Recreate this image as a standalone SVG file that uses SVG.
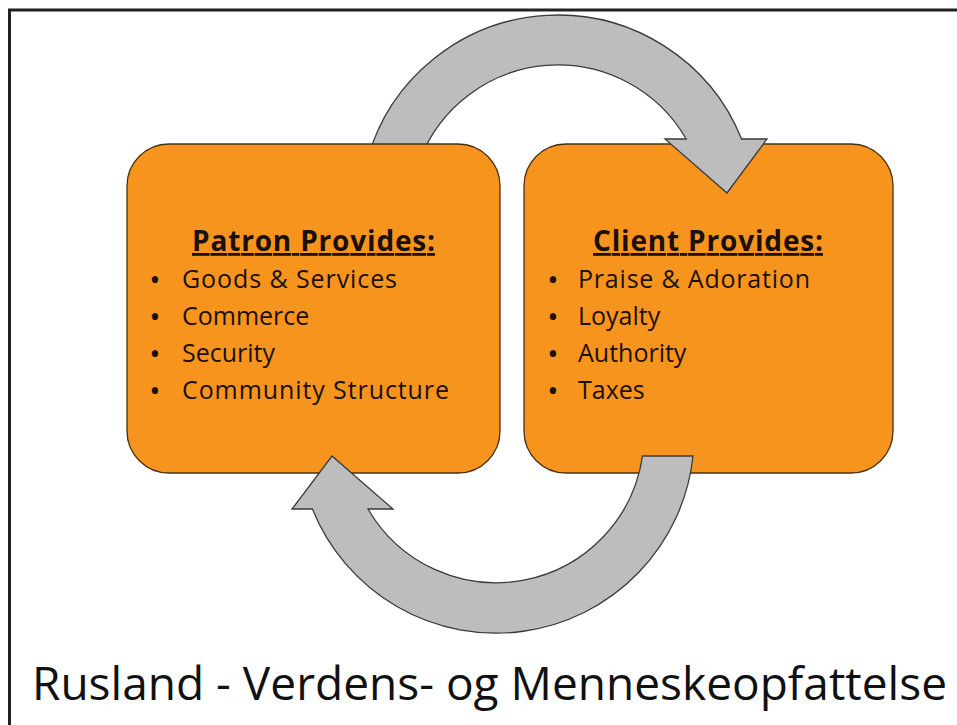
<svg xmlns="http://www.w3.org/2000/svg" width="957" height="725" viewBox="0 0 957 725">
<style>
.box{fill:#f7941d;stroke:#4a3010;stroke-width:1.3}
.arr{fill:#bdbdbd;stroke:#3a3a3a;stroke-width:1.3;stroke-linejoin:miter}
.head{font-family:"Open Sans","Liberation Sans",sans-serif;font-weight:bold;font-size:28px;fill:#1a1008;text-decoration:underline;text-anchor:middle}
.item{font-family:"Open Sans","Liberation Sans",sans-serif;font-size:25px;fill:#1a1008}
.bul{font-family:"Open Sans","Liberation Sans",sans-serif;font-size:30px;fill:#1a1008;text-anchor:middle}
.title{font-family:"Open Sans","Liberation Sans",sans-serif;font-size:46px;fill:#111}
</style>
<rect width="957" height="725" fill="#ffffff"/>
<path d="M9.5,725 V10 H957" fill="none" stroke="#222" stroke-width="3"/>

<g id="client">
<rect class="box" x="524" y="144" width="369" height="329" rx="42" ry="42"/>
<text class="head" x="708" y="251" textLength="230">Client Provides:</text>
<text class="bul" x="553" y="290">•</text><text class="item" x="578" y="288" textLength="232">Praise &amp; Adoration</text>
<text class="bul" x="553" y="327">•</text><text class="item" x="578" y="325">Loyalty</text>
<text class="bul" x="553" y="364">•</text><text class="item" x="578" y="362">Authority</text>
<text class="bul" x="553" y="401">•</text><text class="item" x="578" y="399">Taxes</text>
</g>

<g id="connectors">
<path id="arrow-top" class="arr" d="M367.2,160 A198,198 0 0 1 741.6,139 L767,139 L727,193 L665,139 L686.2,139 A148,148 0 0 0 419.8,160 Z"/>
</g>

<g id="patron">
<rect class="box" x="127" y="144" width="373" height="329" rx="42" ry="42"/>
<text class="head" x="313.5" y="251" textLength="243">Patron Provides:</text>
<text class="bul" x="155" y="290">•</text><text class="item" x="182" y="288" textLength="215">Goods &amp; Services</text>
<text class="bul" x="155" y="327">•</text><text class="item" x="182" y="325">Commerce</text>
<text class="bul" x="155" y="364">•</text><text class="item" x="182" y="362">Security</text>
<text class="bul" x="155" y="401">•</text><text class="item" x="182" y="399" textLength="267">Community Structure</text>
</g>

<g id="connectors-2">
<path id="arrow-bottom" class="arr" d="M693,456 A198,198 0 0 1 312.4,509 L292,509 L332,456 L393,509 L368,509 A148,148 0 0 0 642.5,456 Z"/>
</g>

<text class="title" x="32" y="700" textLength="915">Rusland - Verdens- og Menneskeopfattelse</text>
</svg>
